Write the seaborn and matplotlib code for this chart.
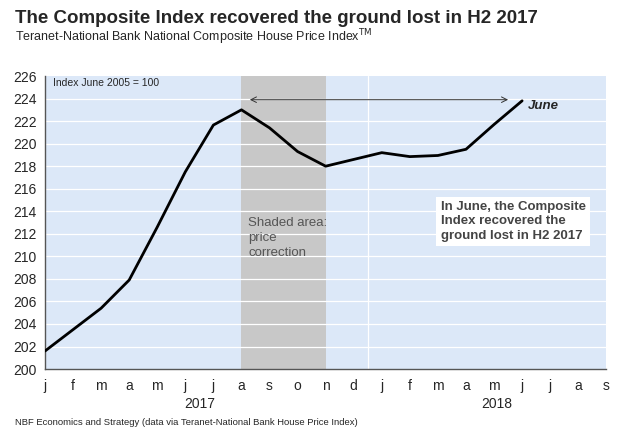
import numpy as np
import pandas as pd
import matplotlib.pyplot as plt
import seaborn as sns

# data
month_labels = ["j", "f", "m", "a", "m", "j", "j", "a", "s", "o", "n", "d",
                "j", "f", "m", "a", "m", "j", "j", "a", "s"]
index_values = [201.6, 203.5, 205.4, 207.9, 212.6, 217.5, 221.65, 223.0, 221.4,
                219.3, 218.0, 218.6, 219.2, 218.85, 218.95, 219.5, 221.7, 223.8]
shade_start, shade_end = 7, 10          # Aug 2017 -> Nov 2017
years = ["2017", "2018"]

df = pd.DataFrame({"month": np.arange(len(index_values)), "index": index_values})

sns.set_style("white", {"axes.facecolor": "#dce8f8"})
plt.rcParams["font.family"] = ["Liberation Sans", "DejaVu Sans"]

fig = plt.figure(figsize=(6.3, 4.42), dpi=100)
ax = fig.add_axes([0.0714, 0.165, 0.891, 0.663])

ax.axvspan(shade_start, shade_end, color="#c8c8c8", zorder=1, lw=0)
for y in range(202, 226, 2):
    ax.axhline(y, color="white", lw=0.9, zorder=1.5)
ax.axvline(11.5, color="white", lw=0.9, zorder=1.5)

sns.lineplot(data=df, x="month", y="index", color="black", lw=2, ax=ax, zorder=3)

ax.set_xlim(0, len(month_labels) - 1)
ax.set_ylim(200, 226)
ax.set_yticks(range(200, 227, 2))
ax.set_xticks(range(len(month_labels)))
ax.set_xticklabels(month_labels, fontsize=10)
ax.set_xticks(np.arange(0.5, len(month_labels) - 1, 1), minor=True)
ax.tick_params(axis="x", which="major", length=0, pad=7)
ax.tick_params(axis="x", which="minor", length=3, color="#555555", direction="out")
ax.tick_params(axis="y", length=4, color="#555555", labelsize=10, pad=2)
ax.set_xlabel("")
ax.set_ylabel("")
for s in ["top", "right"]:
    ax.spines[s].set_visible(False)
for s in ["left", "bottom"]:
    ax.spines[s].set_color("#555555")
    ax.spines[s].set_linewidth(1)

ax.text(5.5, -0.095, years[0], transform=ax.get_xaxis_transform(), ha="center", va="top", fontsize=10)
ax.text(16.1, -0.095, years[1], transform=ax.get_xaxis_transform(), ha="center", va="top", fontsize=10)

ax.text(0.3, 225.4, "Index June 2005 = 100", fontsize=7.5, va="center")
ax.annotate("", xy=(7.2, 223.9), xytext=(16.6, 223.9),
            arrowprops=dict(arrowstyle="<->", color="#333333", lw=0.7), zorder=4)
ax.text(17.2, 223.3, "June", fontsize=9.5, fontweight="bold", style="italic", va="center")
ax.text(7.25, 211.6, "Shaded area:\nprice\ncorrection", fontsize=9.5, color="#555555",
        va="center", linespacing=1.35)
ax.text(14.1, 213.1, "In June, the Composite\nIndex recovered the\nground lost in H2 2017",
        fontsize=9.5, fontweight="bold", color="#444444", va="center", linespacing=1.25,
        bbox=dict(boxstyle="square,pad=0.35", fc="white", ec="none"), zorder=5)

fig.text(0.024, 0.958, "The Composite Index recovered the ground lost in H2 2017",
         fontsize=13.5, fontweight="bold", va="center")
fig.text(0.024, 0.915, "Teranet-National Bank National Composite House Price Index$^{\\mathrm{TM}}$",
         fontsize=9, va="center")
fig.text(0.024, 0.045, "NBF Economics and Strategy (data via Teranet-National Bank House Price Index)",
         fontsize=6.8, va="center")

fig.savefig("out.png", dpi=100)
